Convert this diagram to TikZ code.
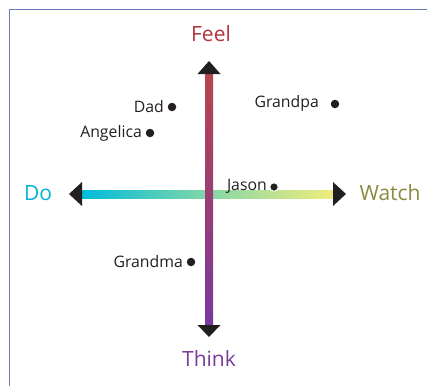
\documentclass[tikz,border=0pt]{standalone}
\usepackage{fontspec}
\setmainfont{Open Sans}
\definecolor{frameC}{HTML}{6A7DB8}
\definecolor{feelC}{HTML}{B3333D}
\definecolor{thinkC}{HTML}{7A3A98}
\definecolor{doC}{HTML}{00B2D4}
\definecolor{watchC}{HTML}{8A8A3C}
\definecolor{vtop}{HTML}{B8444C}
\definecolor{vbot}{HTML}{7A389E}
\definecolor{hleft}{HTML}{00BCDC}
\definecolor{hright}{HTML}{F0EC7C}
\definecolor{tipC}{HTML}{231F20}
\begin{document}
\begin{tikzpicture}[x=1pt,y=-1pt,
  axislabel/.style={font=\fontsize{21}{24}\selectfont, inner sep=0pt},
  person/.style={font=\fontsize{15.8}{18}\selectfont, inner sep=0pt, text=tipC},
  dotmark/.style={circle, fill=tipC, inner sep=0pt, minimum size=8.5pt},
  tipshape/.style={fill=tipC}]
\useasboundingbox (0,0) rectangle (427,386);
\draw[frameC, line width=1.2pt] (9.5,386) -- (9.5,9.5) -- (427,9.5);
% axis end coordinates
\coordinate (vtopend) at (209,74);
\coordinate (vbotend) at (209,325);
\coordinate (hleftend) at (82,194);
\coordinate (hrightend) at (333,194);
% horizontal shaded bar
\shade[left color=hleft, right color=hright, middle color=hleft!45!hright]
  ([yshift=-4]hleftend) rectangle ([yshift=4]hrightend);
\fill[tipshape] (69,194) -- (82,182) -- (82,206) -- cycle;
\fill[tipshape] (346,194) -- (333,182) -- (333,206) -- cycle;
% vertical shaded bar
\shade[top color=vtop, bottom color=vbot]
  ([xshift=-4]vtopend) rectangle ([xshift=4]vbotend);
\fill[tipshape] (209,61) -- (197.5,74) -- (220.5,74) -- cycle;
\fill[tipshape] (209,337) -- (197.5,325) -- (220.5,325) -- cycle;
% axis labels
\node[axislabel, text=feelC] (feel) at (211,34) {Feel};
\node[axislabel, text=thinkC] (think) at (209,359) {Think};
\node[axislabel, text=doC] (do) at (38,193) {Do};
\node[axislabel, text=watchC] (watch) at (390,193) {Watch};
% people
\node[dotmark] (daddot) at (172,107) {};
\node[person, anchor=east] (dad) at (164,107) {Dad};
\node[dotmark] (grandpadot) at (335,104) {};
\node[person, anchor=east] (grandpa) at (319,103) {Grandpa};
\node[dotmark] (angelicadot) at (150,133) {};
\node[person, anchor=east] (angelica) at (142,133) {Angelica};
\node[dotmark, draw=white, line width=1pt] (jasondot) at (274,187) {};
\node[person, anchor=east] (jason) at (267,186) {Jason};
\node[dotmark] (grandmadot) at (191,262) {};
\node[person, anchor=east] (grandma) at (183,262) {Grandma};
\end{tikzpicture}
\end{document}
